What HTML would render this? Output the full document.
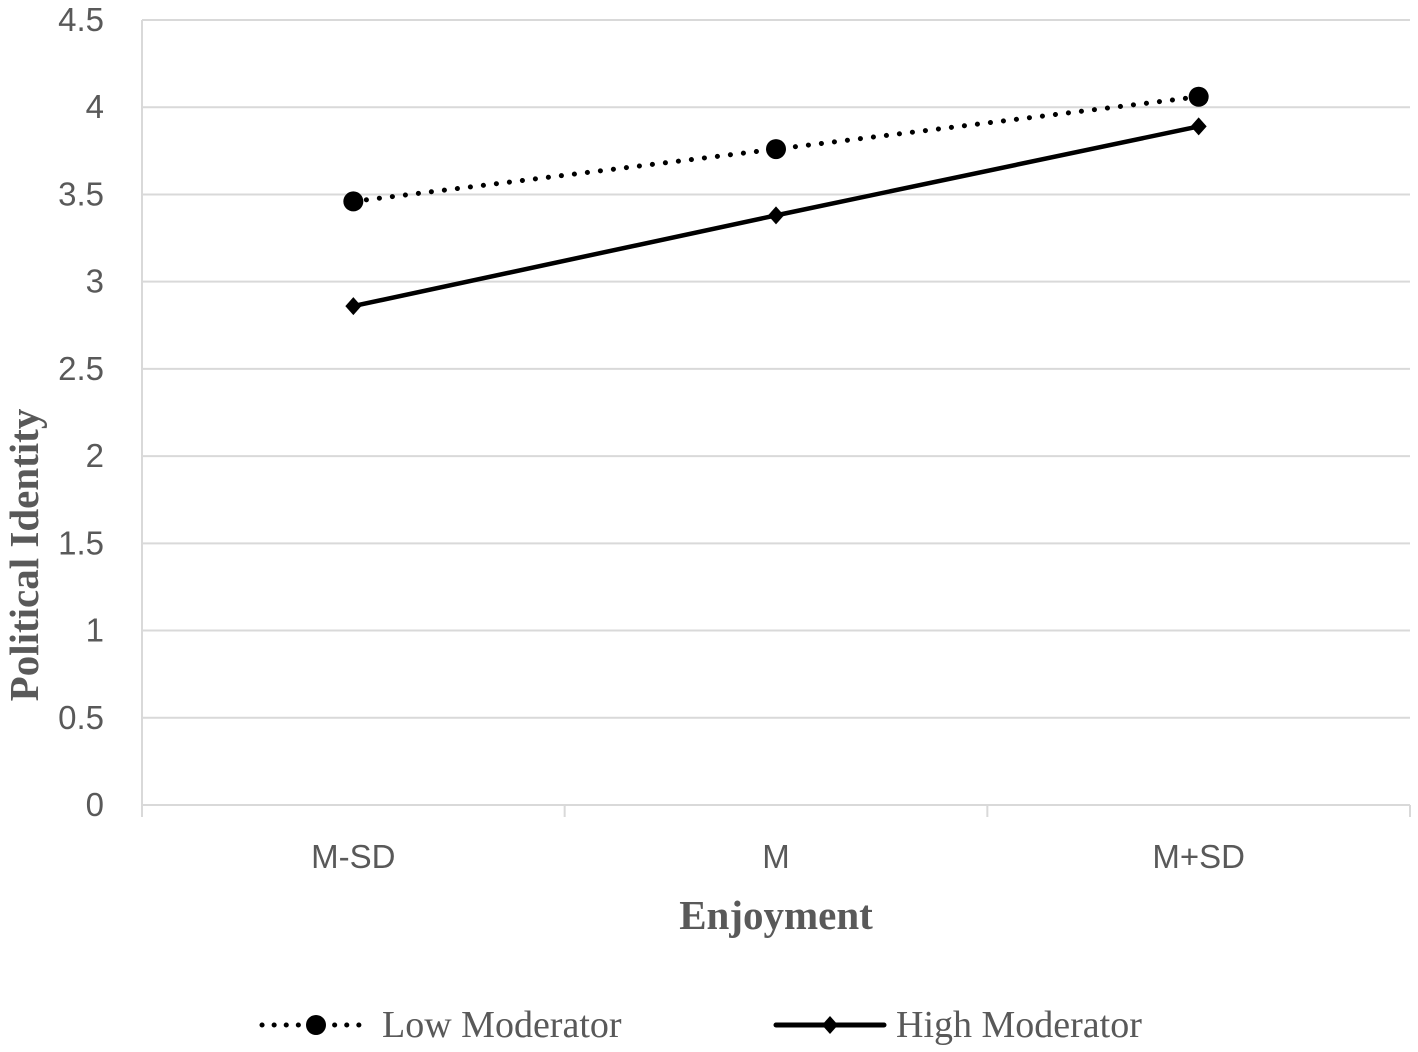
<!DOCTYPE html>
<html><head><meta charset="utf-8"><style>
html,body{margin:0;padding:0;background:#fff;}
svg{display:block;}
</style></head><body>
<svg id="chart" width="1418" height="1052" viewBox="0 0 1418 1052" xmlns="http://www.w3.org/2000/svg"></svg>
<script>
const categories = ["M-SD","M","M+SD"];
const lowModerator = [3.46, 3.76, 4.06];
const highModerator = [2.86, 3.38, 3.89];
const yTicks = [0,0.5,1,1.5,2,2.5,3,3.5,4,4.5];
const yTickLabels = ["0","0.5","1","1.5","2","2.5","3","3.5","4","4.5"];

const NS="http://www.w3.org/2000/svg";
const svg=document.getElementById('chart');
const L=142,R=1410,T=20,B=805,yMax=4.5;
const band=(R-L)/categories.length;
function x(i){return L+band*(i+0.5);}
function y(v){return B-(v/yMax)*(B-T);}
function mk(tag,attrs,parent){const e=document.createElementNS(NS,tag);for(const k in attrs)e.setAttribute(k,attrs[k]);(parent||svg).appendChild(e);return e;}

const grid=mk('g',{});


yTicks.forEach((t,i)=>{
  if(t>0){const g=mk('line',{x1:L,x2:R,y1:y(t),y2:y(t),stroke:'#d9d9d9','stroke-width':2},grid);
  
  }
  const tl=mk('text',{x:104,y:y(t)+11,'text-anchor':'end','font-family':'Liberation Sans, sans-serif','font-size':33,fill:'#595959'});
  tl.textContent=yTickLabels[i];
  
  
});
const ya=mk('line',{x1:L,x2:L,y1:T,y2:B,stroke:'#d9d9d9','stroke-width':2});


const xa=mk('line',{x1:L,x2:R,y1:B,y2:B,stroke:'#d9d9d9','stroke-width':2});


for(let i=0;i<=categories.length;i++){
  const tk=mk('line',{x1:L+band*i,x2:L+band*i,y1:B,y2:B+12,stroke:'#d9d9d9','stroke-width':2});
  
  
}
categories.forEach((c,i)=>{
  const t=mk('text',{x:x(i),y:868,'text-anchor':'middle','font-family':'Liberation Sans, sans-serif','font-size':33,fill:'#595959'});
  t.textContent=c;
  
  
});

const hp=mk('polyline',{points:highModerator.map((v,i)=>x(i)+','+y(v)).join(' '),fill:'none',stroke:'#000','stroke-width':4.5});


highModerator.forEach((v,i)=>{
  const cx=x(i),cy=y(v);
  const d=mk('polygon',{points:`${cx},${cy-9} ${cx+8},${cy} ${cx},${cy+9} ${cx-8},${cy}`,fill:'#000'});
  
  
});
const lp=mk('polyline',{points:lowModerator.map((v,i)=>x(i)+','+y(v)).join(' '),fill:'none',stroke:'#000','stroke-width':5,'stroke-dasharray':'0.1 13','stroke-linecap':'round'});


lowModerator.forEach((v,i)=>{
  const c=mk('circle',{cx:x(i),cy:y(v),r:10,fill:'#000'});
  
  
});

const xt=mk('text',{x:776,y:929,'text-anchor':'middle','font-family':'Liberation Serif, serif','font-size':41,'font-weight':'bold',fill:'#595959'});
xt.textContent='Enjoyment';


const yt=mk('text',{x:0,y:0,transform:'translate(38,555) rotate(-90)','text-anchor':'middle','font-family':'Liberation Serif, serif','font-size':41,'font-weight':'bold',fill:'#595959'});
yt.textContent='Political Identity';



const lg=mk('g',{});


const l1=mk('line',{x1:262,x2:370,y1:1025,y2:1025,stroke:'#000','stroke-width':5,'stroke-dasharray':'0.1 12','stroke-linecap':'round'},lg);


const lc=mk('circle',{cx:316,cy:1025,r:10,fill:'#000'},lg);


const lt1=mk('text',{x:382,y:1037,'font-family':'Liberation Serif, serif','font-size':38,fill:'#595959'},lg);
lt1.textContent='Low Moderator';


const l2=mk('line',{x1:776,x2:884,y1:1025,y2:1025,stroke:'#000','stroke-width':5,'stroke-linecap':'round'},lg);


const ld=mk('polygon',{points:'830,1016 838,1025 830,1034 822,1025',fill:'#000'},lg);


const lt2=mk('text',{x:896,y:1037,'font-family':'Liberation Serif, serif','font-size':38,fill:'#595959'},lg);
lt2.textContent='High Moderator';


</script>
</body></html>
